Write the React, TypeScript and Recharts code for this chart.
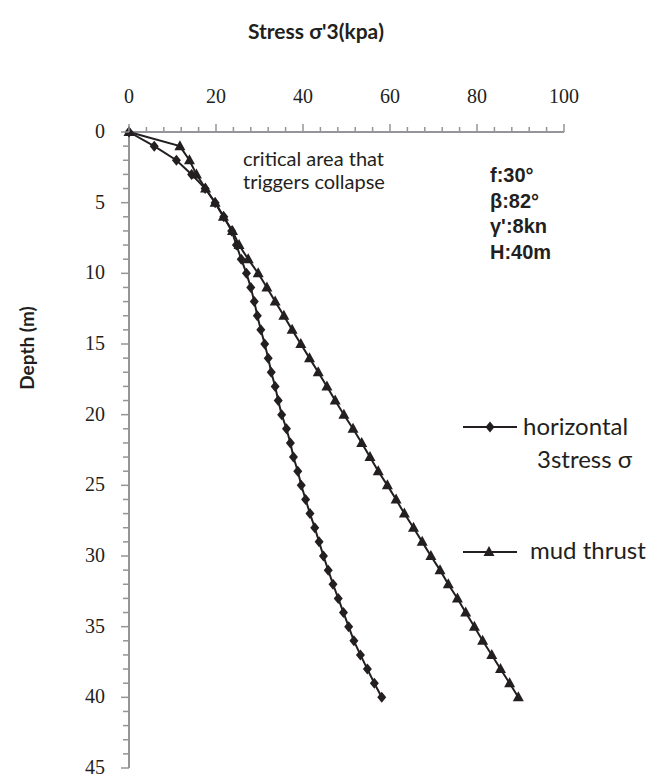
import React from "react";
import { ScatterChart, Scatter, XAxis, YAxis, Legend } from "recharts";

const depths = [
  0, 1, 2, 3, 4, 5, 6, 7, 8, 9, 10, 11, 12, 13, 14, 15, 16, 17, 18, 19, 20,
  21, 22, 23, 24, 25, 26, 27, 28, 29, 30, 31, 32, 33, 34, 35, 36, 37, 38, 39, 40,
];
const horizontalStress = [
  0, 5.8, 10.9, 14.4, 17.5, 19.8, 21.8, 23.6, 24.7, 25.8, 27.0, 28.0, 28.8, 29.5, 30.3, 31.2,
  32.0, 32.7, 33.6, 34.3, 35.1, 36.2, 37.1, 37.8, 38.8, 39.6, 40.6, 41.6, 42.7, 43.7, 44.7,
  45.8, 46.9, 48.1, 49.3, 50.5, 51.7, 53.2, 54.8, 56.4, 58.1,
];
const mudThrust = [
  0, 11.7, 13.9, 15.5, 17.6, 19.8, 21.7, 23.8, 25.3, 27.4, 29.7, 31.7, 33.6, 35.6, 37.5, 39.5,
  41.5, 43.5, 45.5, 47.4, 49.4, 51.5, 53.5, 55.4, 57.3, 59.4, 61.4, 63.3, 65.4, 67.4, 69.4,
  71.5, 73.4, 75.5, 77.4, 79.4, 81.3, 83.4, 85.4, 87.5, 89.5,
];
const stressLabels = [0, 20, 40, 60, 80, 100];
const depthLabels = [0, 5, 10, 15, 20, 25, 30, 35, 40, 45];
const params = ["f:30°", "β:82°", "γ':8kn", "H:40m"];

const INK = "#231f20";
const AXIS = "#939598";
const SERIF = "'Liberation Serif', 'Times New Roman', serif";
const SANS = "Lato, 'Open Sans', sans-serif";

// minor ticks every 4 kPa and every 1 m, labels only on the majors
const stressTicks = Array.from({ length: 26 }, (_, i) => i * 4);
const depthTicks = Array.from({ length: 46 }, (_, i) => i);

const horizontalData = depths.map((d, i) => ({ stress: horizontalStress[i], depth: d }));
const mudData = depths.map((d, i) => ({ stress: mudThrust[i], depth: d }));

const Diamond = (props: any) => {
  const { cx, cy } = props;
  return <polygon points={`${cx},${cy - 5.5} ${cx + 4.5},${cy} ${cx},${cy + 5.5} ${cx - 4.5},${cy}`} fill={INK} />;
};

const Triangle = (props: any) => {
  const { cx, cy } = props;
  return <polygon points={`${cx},${cy - 6} ${cx + 5.5},${cy + 4} ${cx - 5.5},${cy + 4}`} fill={INK} />;
};

const StressTick = (props: any) => {
  const { x, y, payload } = props;
  const major = stressLabels.includes(payload.value);
  return (
    <g>
      <line x1={x} y1={y} x2={x} y2={y - (major ? 8 : 5)} stroke={AXIS} strokeWidth={1.5} />
      {major && (
        <text x={x} y={y - 29} textAnchor="middle" fontFamily={SERIF} fontSize={20} fill={INK}>
          {payload.value}
        </text>
      )}
    </g>
  );
};

const DepthTick = (props: any) => {
  const { x, y, payload } = props;
  const major = depthLabels.includes(payload.value);
  return (
    <g>
      <line x1={x - (major ? 8 : 6)} y1={y} x2={x} y2={y} stroke={AXIS} strokeWidth={1.5} />
      {major && (
        <text x={x - 24} y={y + 6} textAnchor="end" fontFamily={SERIF} fontSize={20} fill={INK}>
          {payload.value}
        </text>
      )}
    </g>
  );
};

const renderLegend = () => (
  <svg width={215} height={175} style={{ display: "block" }}>
    <line x1={8} y1={27} x2={62} y2={27} stroke={INK} strokeWidth={2} />
    <Diamond cx={35} cy={27} />
    <text x={68} y={35} fontFamily={SANS} fontSize={24} fill={INK}>horizontal</text>
    <text x={82} y={68} fontFamily={SANS} fontSize={24} fill={INK}>3stress σ</text>
    <line x1={8} y1={152} x2={62} y2={152} stroke={INK} strokeWidth={2} />
    <Triangle cx={34} cy={152} />
    <text x={75} y={159} fontFamily={SANS} fontSize={24} fill={INK}>mud thrust</text>
  </svg>
);

export default function App() {
  return (
    <div style={{ position: "absolute", left: 0, top: 0, width: 670, height: 776, background: "#fff" }}>
      <ScatterChart width={670} height={776} margin={{ top: 102, right: 106, bottom: 8, left: 69 }}>
        <XAxis
          type="number"
          dataKey="stress"
          orientation="top"
          domain={[0, 100]}
          ticks={stressTicks}
          interval={0}
          height={30}
          tickSize={0}
          tickMargin={0}
          tickLine={false}
          axisLine={{ stroke: AXIS, strokeWidth: 2 }}
          tick={<StressTick />}
        />
        <YAxis
          type="number"
          dataKey="depth"
          domain={[0, 45]}
          reversed
          ticks={depthTicks}
          interval={0}
          width={60}
          tickSize={0}
          tickMargin={0}
          tickLine={false}
          axisLine={{ stroke: AXIS, strokeWidth: 2 }}
          tick={<DepthTick />}
        />
        <Legend
          layout="horizontal"
          verticalAlign="middle"
          align="center"
          content={renderLegend}
          wrapperStyle={{ position: "absolute", left: 455, top: 400, width: 215, height: 175 }}
        />
        <Scatter
          name="horizontal 3stress σ"
          data={horizontalData}
          line={{ stroke: INK, strokeWidth: 2 }}
          lineType="joint"
          shape={<Diamond />}
          fill={INK}
          isAnimationActive={false}
        />
        <Scatter
          name="mud thrust"
          data={mudData}
          line={{ stroke: INK, strokeWidth: 2 }}
          lineType="joint"
          shape={<Triangle />}
          fill={INK}
          isAnimationActive={false}
        />
      </ScatterChart>
      <svg width={670} height={776} style={{ position: "absolute", left: 0, top: 0, pointerEvents: "none" }}>
        <text x={316} y={39} textAnchor="middle" fontFamily={SANS} fontWeight={700} fontSize={21} fill={INK}>
          Stress σ'3(kpa)
        </text>
        <text
          x={34}
          y={348}
          transform="rotate(-90 34 348)"
          textAnchor="middle"
          fontFamily={SANS}
          fontWeight={700}
          fontSize={19}
          fill={INK}
        >
          Depth (m)
        </text>
        <text x={243} y={166} fontFamily={SANS} fontSize={20} fill={INK}>critical area that</text>
        <text x={243} y={189} fontFamily={SANS} fontSize={20} fill={INK}>triggers collapse</text>
        {params.map((p, i) => (
          <text
            key={p}
            x={490}
            y={182 + i * 25.5}
            fontFamily="'Liberation Sans', Arial, sans-serif"
            fontWeight={700}
            fontSize={20}
            fill={INK}
          >
            {p}
          </text>
        ))}
      </svg>
    </div>
  );
}
